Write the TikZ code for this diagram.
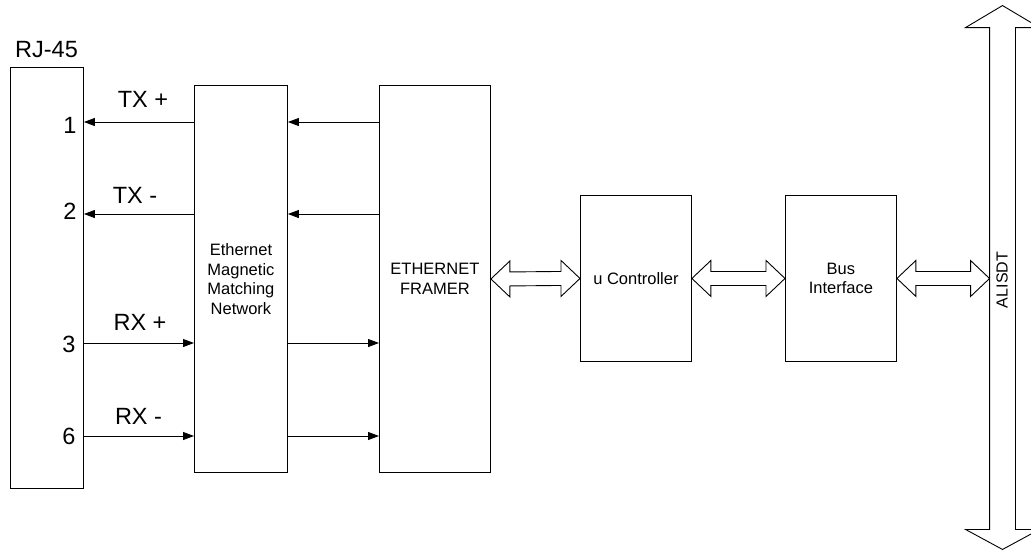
\documentclass[tikz,border=0pt]{standalone}
\usepackage{fontspec}
\setmainfont{Liberation Sans}
\usetikzlibrary{arrows.meta,calc}
\begin{document}
\begin{tikzpicture}[x=1pt,y=-1pt, line width=0.9pt,
  box/.style={draw, rectangle, inner sep=0pt, align=center, anchor=north west, font=\fontsize{16.5}{19.5}\selectfont},
  big/.style={font=\fontsize{23.5}{26}\selectfont, inner sep=0pt},
  small/.style={font=\fontsize{16}{19}\selectfont, inner sep=0pt},
  sig/.style={-{Triangle[length=11pt,width=8pt]}},
  fat/.style={draw, fill=white, line width=0.9pt, line join=miter}]
\useasboundingbox (0,0) rectangle (1031,552);
% boxes
\node[box, minimum width=73pt, minimum height=421pt] (rj) at (10,67) {};
\node[box, minimum width=93pt, minimum height=387pt] (mag) at (194,85) {Ethernet\\Magnetic\\Matching\\Network};
\node[box, minimum width=111pt, minimum height=387pt] (fr) at (379,85) {ETHERNET\\FRAMER};
\node[box, minimum width=111pt, minimum height=166pt] (uc) at (580,195) {u Controller};
\node[box, minimum width=111pt, minimum height=166pt] (bi) at (785,195) {Bus\\Interface};
\node[inner sep=0pt, minimum width=25pt, minimum height=501pt] (bus) at (1002.5,278.5) {};
% labels
\node[big] (rjl) at (46.5,50) {RJ-45};
\node[big] (p1) at (70,125) {1};
\node[big] (p2) at (70,211) {2};
\node[big] (p3) at (69,344) {3};
\node[big] (p6) at (69,436) {6};
\node[big] (ltxp) at (143,99.5) {TX +};
\node[big] (ltxm) at (135,195.5) {TX -};
\node[big] (lrxp) at (140,322.5) {RX +};
\node[big] (lrxm) at (138.5,416.5) {RX -};
% signal rows
\coordinate (y1) at (0,122);
\coordinate (y2) at (0,214);
\coordinate (y3) at (0,343);
\coordinate (y4) at (0,436);
\draw[sig] (mag.west |- y1) -- (rj.east |- y1);
\draw[sig] (fr.west |- y1) -- (mag.east |- y1);
\draw[sig] (mag.west |- y2) -- (rj.east |- y2);
\draw[sig] (fr.west |- y2) -- (mag.east |- y2);
\draw[sig] (rj.east |- y3) -- (mag.west |- y3);
\draw[sig] (mag.east |- y3) -- (fr.west |- y3);
\draw[sig] (rj.east |- y4) -- (mag.west |- y4);
\draw[sig] (mag.east |- y4) -- (fr.west |- y4);
% fat double arrows
\newcommand{\fatarrowH}[2]{%
  \draw[fat] (#1.east) -- ++(19,-18) -- ++(0,11) -- ($(#2.west)+(-19,-7)$) -- ++(0,-11) -- (#2.west)
    -- ++(-19,18) -- ++(0,-11) -- ($(#1.east)+(19,7)$) -- ++(0,11) -- cycle;}
\fatarrowH{fr}{uc}
\fatarrowH{uc}{bi}
\fatarrowH{bi}{bus}
% bus
\draw[fat] (bus.north west) -- ++(-24,0) -- ($(bus.north)+(0,-22)$) -- ($(bus.north east)+(24,0)$) -- (bus.north east)
  -- (bus.south east) -- ++(24,0) -- ($(bus.south)+(0,20)$) -- ($(bus.south west)+(-24,0)$) -- (bus.south west) -- cycle;
\node[small, rotate=90] (busl) at (1002,280) {ALISDT};
\end{tikzpicture}
\end{document}
